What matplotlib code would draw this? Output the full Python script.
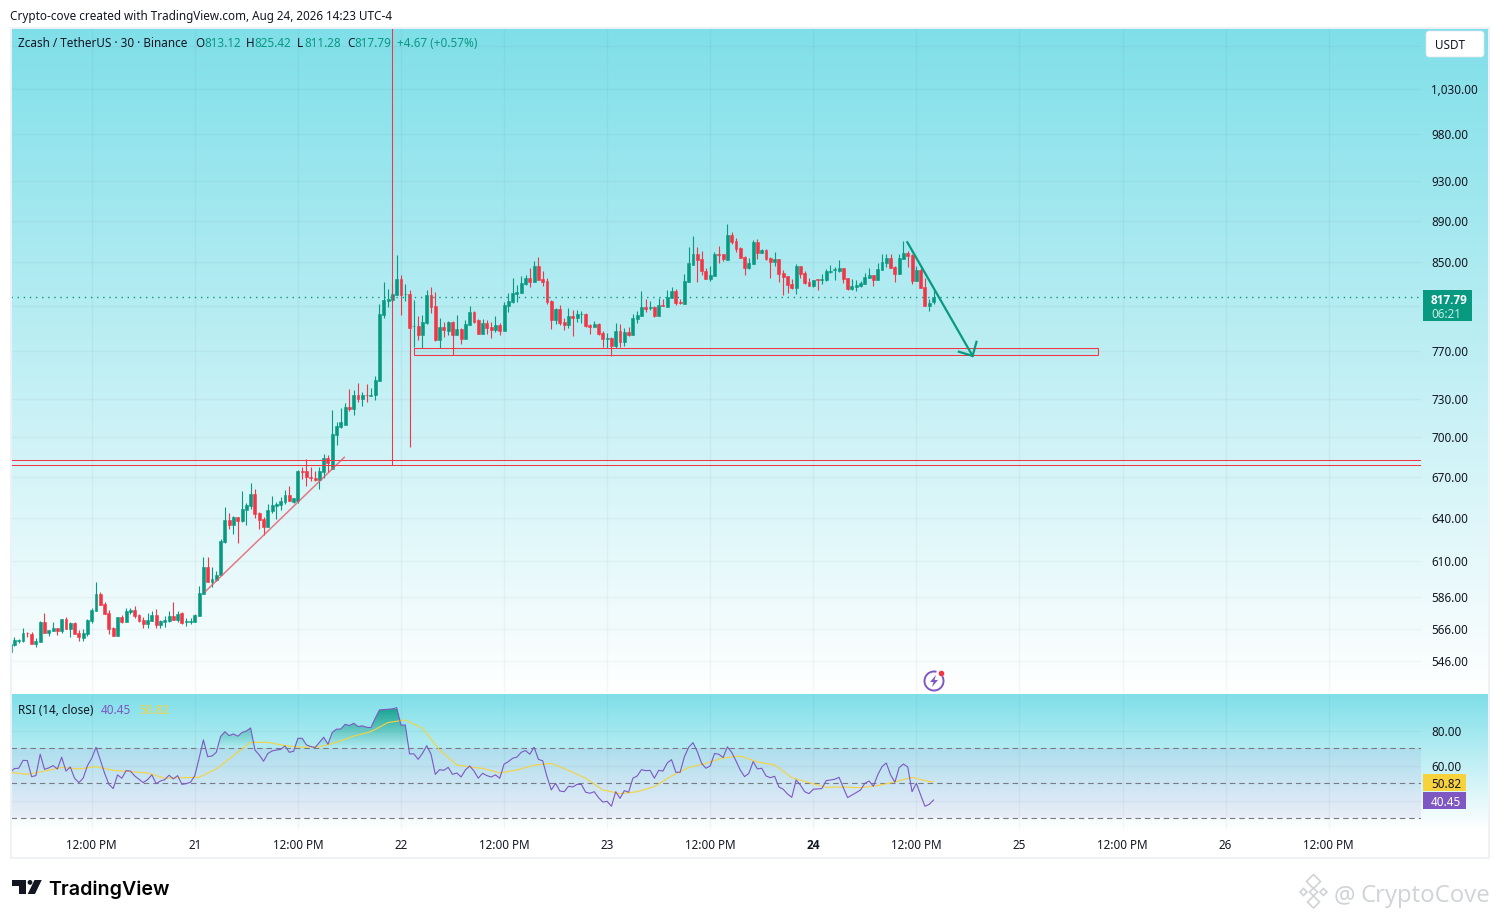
import numpy as np
import matplotlib
matplotlib.use('Agg')
import matplotlib.pyplot as plt
from matplotlib.colors import LinearSegmentedColormap, to_rgb
from matplotlib.patches import Rectangle, FancyBboxPatch, Circle, Arc, Polygon, PathPatch
from matplotlib.ticker import NullLocator, NullFormatter

plt.rcParams['font.family'] = ['Noto Sans', 'DejaVu Sans']

# 30 minute candles, bar 0 is the 22nd at midnight
first_bar = -91
opens = [551.3,555.8,558.4,558.4,563.4,562.6,556.5,557.7,570.1,563.2,564.6,566.3,564.6,572,565.9,569.5,563.2,560,562.8,570.7,
 577.2,588.1,581.6,575.6,566.3,561.5,573.3,570.3,576.2,577.7,574.5,571.4,568.6,570.7,574.5,568.2,570.1,570.7,573.9,571.2,
 575.6,570.1,570.3,570.1,574.1,588.1,605.9,595.9,597.2,600.6,622.9,638.3,634.8,640.4,637.6,645.4,648.2,657,643.2,639,
 633.4,644.7,648.2,648.9,651.1,656.2,651.1,651.8,673.9,673.9,669.4,668.6,667.2,673.1,683.7,675.4,701.3,707.5,709.8,724.1,
 722.5,733.7,730.5,733.7,732.9,733.2,745.3,801.7,814.2,815.1,819.7,834.3,820,820.6,791.4,792,784.2,794.6,819.7,809.7,
 779.8,791.1,787.6,795.5,784.2,789.4,780.7,792.9,804.3,797.3,785,794.6,791.1,788.5,792.9,787.6,809.7,813.3,820.6,821.5,
 829.7,835.2,831.6,846.4,834.3,832.5,814.2,797.3,807,795.5,792.9,800.8,799,802,802.6,792.9,791.1,793.8,785.9,780.7,
 781.6,774.6,787.6,778,786.8,784.2,798.2,800.8,808.8,807.9,808.8,800.8,810.3,808.8,816.9,823.3,813.3,811.5,831.6,847.3,
 857.7,853,841.7,834.3,837,857.7,857.7,852,875.9,870.1,863.4,854.9,844.5,848.2,869.2,858.6,861.5,853.9,850.1,853,
 839.8,837,829.7,826.1,846.4,839.8,831.6,827.9,834.3,833.4,833.4,840.8,842.6,841.4,844.5,835.2,825.1,827,827.9,829.7,
 835.2,838,833.4,842.6,849.2,853.9,845.4,839,853,858.6,856.8,832.5,842.6,827,809.7,813.12]
highs = [557.9,560.5,559.5,566.3,564,564,560,570.9,575.8,565,570.3,566.3,572,573.3,570.3,570.3,564.9,565.7,572,579,
 595.7,589.6,582.7,577.7,567,573.3,574.5,578.9,579,580.2,575.2,573,575.8,577,578.3,571.4,573.7,577,582.9,577,
 576.4,572.6,572.6,575.2,593.3,612.7,612.7,605.9,603.3,625,647.5,643.2,641.4,640.4,659.1,650.4,665,660.6,644,640.4,
 649.7,655.5,651.1,654.7,659.9,662.8,654,674.7,676.9,682.9,676.9,673.9,676.9,686.7,685.9,721.7,711.4,723.3,727.3,738.6,
 737.8,743.6,736.2,742.8,739.5,749.4,811.5,831.6,825.1,830.6,856.8,838,829.7,824.2,815.1,800.8,801.7,824.2,826.9,822.4,
 799,795.5,796.4,796.4,801.7,790.3,797.3,809.7,805.2,798.2,798.2,797.3,795.5,800.8,794.6,813.3,821.5,835.2,828.8,837,
 838,844.5,851.1,854.9,841.7,835.2,815.1,807.9,810.6,799,807.9,806.1,806.1,805.2,803.4,793.8,796.4,794.6,787.6,785.9,
 782.4,794.6,793.8,790.3,791.1,802.6,805.2,823.3,816,814.2,809.7,816.9,816,824.2,827,825.1,816,839,864.4,874.9,
 864.4,860.5,844.5,846.4,859.6,865.3,857.7,886.6,878.8,873,864.4,855.8,853.9,871.1,872,862.5,862.5,854.9,859.6,853,
 842.6,837,834.3,848.2,846.4,841.7,835.2,833.4,834.3,839,843.5,847.3,845.4,852,844.5,835.2,834.3,833.4,832.5,839.8,
 844.5,838,849.2,857.7,857.7,857.7,846.4,857.7,870.1,860.5,857.7,846.4,845.4,835.2,816,825.42]
lows = [551.3,555.2,556.7,557.9,560.9,556.5,554.6,557.7,563.4,561.5,564.6,562.1,563.2,565.9,560.9,562.3,558.4,558.4,561.5,569.5,
 577.2,581,575.4,562.6,561.5,561.5,569.5,570.3,575.2,572.8,570.3,566.3,566.5,570.7,566.3,566.3,566.8,570.1,571.4,570.1,
 568.9,567.6,568.9,570.1,574.1,588.1,595.9,592.6,596.6,600.6,622.2,632,628.5,622.2,636.9,634.8,646.1,639.7,632,627.8,
 633.4,643.2,639,645.4,649.7,651.8,650.4,650.4,667.9,662.8,666.4,666.4,660.6,668.6,673.1,675.4,693.6,706.7,709.8,720.9,
 717.7,728.1,724.4,727.6,732.4,729.7,745.3,799,808.8,813.3,819.7,801.7,814.2,692,773.8,779.8,773,793.8,803.4,778.9,
 773,782.4,784.2,766.9,784.2,776.4,780.7,792.9,794.6,785,785,785,781.6,786.8,784.2,787.6,804.3,812.4,813.3,821.5,
 828.8,826.9,831.6,833.4,827.9,811.5,789.4,793.8,792.9,788.5,790.3,783.3,795.5,794.6,791.1,785,791.1,784.2,773.8,773,
 765.5,773,773.8,774.6,783.3,784.2,794.6,800.8,804.3,806.1,799.9,800.8,809.7,808.8,816.9,810.6,811.5,811.5,831.6,847.3,
 831.6,838,834.3,832.5,837,849.2,851.1,852,867.3,859.6,853.9,838,843.5,848.2,853,858.6,852,835.2,846.4,831.6,
 819.7,821.5,825.1,820.6,835.2,829.7,827.9,827,824.2,829.7,832.5,839.8,833.4,840.8,830.6,824.2,824.2,823.3,827,829.7,
 835.2,827.9,833.4,842.6,845.4,844.5,831.6,839,853,845.4,829.7,832.5,826.1,809.7,805.2,811.28]
closes = [556.4,558.8,558.8,563.2,563,556.5,558.1,570.3,563.4,565,566.3,564.4,572,565.9,569.5,562.6,560.7,563.2,571.4,577.7,
 588.1,581,575.4,565.9,561.5,573.3,570.1,577,577.5,573.9,570.7,568.9,571.2,574.5,568.4,571,571.2,573.9,571.4,574.9,
 569.7,570.5,571,574.5,588.7,605.9,595.9,597.9,600.6,623.6,638.3,634.8,640.4,637.6,646.1,648.9,657,642.6,638.3,633.4,
 645.4,648.9,649.7,651.8,656.2,651.8,654,673.9,673.4,669.4,668.6,667.2,673.9,683.7,679.9,702,708.3,711.4,724.1,722.5,
 733.7,730.5,733.7,733.2,733.7,746.1,802.6,815.1,816,820.6,834.3,819.7,820.6,790.3,792,784.2,795.5,819.7,808.8,779.8,
 791.1,788.5,795.5,784.2,789.4,780.7,793.8,804.3,795.5,785,794.6,790.3,788.5,792.9,787.6,810.6,814.2,821.5,822.4,830.6,
 835.2,831.6,846.4,833.4,831.6,813.3,797.3,807,794.6,792.9,800.8,799,802.6,802.6,792,791.1,793.8,785,780.7,781.2,
 774.6,787.6,778,786.8,784.2,799,801.7,808.8,807,808.8,800.8,810.6,809.7,817.8,823.3,812.4,812.1,832.5,849.2,857.7,
 852,841.7,834.3,838,857.7,856.8,853,875.9,869.2,862.5,853.9,844.5,849.2,869.2,858.6,861.5,853,850.1,853,839,
 836.1,828.8,826.1,846.4,839,830.6,827.9,833.4,833.4,834.3,841.7,841.7,843.5,844.5,834.3,825.1,827.9,828.8,830.6,836.1,
 838,833.4,843.5,850.1,853.9,844.5,839,853.9,858.6,855.8,832.5,842.6,826.1,809.7,812.4,817.79]

rsi_values = [56.3,58.4,58.6,63.1,63.0,53.8,54.4,66.6,58.0,58.8,60.1,58.2,64.9,57.0,59.3,52.9,50.4,52.9,60.1,64.3,
 70.6,63.3,55.7,49.4,47.0,54.8,52.9,57.2,57.0,54.2,52.3,50.4,52.1,54.8,49.8,51.3,52.1,54.6,52.5,54.4,
 49.4,49.8,50.6,54.4,64.3,74.8,65.2,65.6,67.7,76.7,79.5,77.2,78.2,76.9,79.0,79.9,81.6,69.0,66.2,62.6,
 67.0,68.5,69.0,69.4,71.3,67.7,68.3,75.7,75.7,71.9,71.0,70.4,73.4,76.3,72.3,79.1,80.9,81.0,83.7,83.0,
 84.3,82.4,82.8,82.0,81.8,87.1,91.9,92.1,92.3,92.5,93.2,83.3,83.3,66.8,66.8,63.7,67.1,71.5,66.6,55.1,
 57.8,57.4,59.1,55.1,55.9,53.6,57.6,59.9,57.0,52.9,55.7,54.4,
 53.6,54.8,52.9,60.9,62.4,64.3,65.0,67.7,68.7,66.6,70.6,63.7,62.8,53.8,46.2,50.0,45.6,45.2,48.3,47.9,
 49.4,49.4,44.9,44.3,45.2,41.8,39.3,39.7,36.9,45.2,41.4,45.8,44.9,52.9,54.2,57.8,57.2,57.4,52.9,57.4,
 57.0,61.6,63.5,56.3,56.3,65.2,70.6,73.2,68.1,61.4,58.6,59.9,67.0,66.6,64.7,70.8,67.7,62.8,57.6,53.8,
 55.7,62.4,58.2,58.6,54.2,53.2,54.0,47.9,46.6,43.9,42.0,51.9,49.0,45.2,44.1,46.6,46.8,47.0,51.5,51.9,
 52.3,53.4,47.5,41.8,43.3,44.7,46.2,50.0,51.3,48.3,54.8,59.5,61.6,54.8,50.6,59.0,61.0,59.3,45.2,50.0,
 43.3,36.9,38.0,40.45]
rsi_ma_bars = list(range(-91, 18, 4)) + list(range(19, 124, 4)) + [124]
rsi_ma_values = [56.3,55.1,57.0,59.0,58.2,59.5,57.4,56.7,55.9,52.9,53.2,53.4,58.2,65.8,73.4,73.4,71.5,70.6,70.8,73.4,
 77.0,79.5,84.7,86.2,81.4,69.0,60.5,59.0,
 58.6,55.9,57.6,60.3,61.4,57.4,52.9,46.2,44.1,45.2,48.1,54.2,59.0,61.4,64.5,65.6,62.2,60.5,53.2,50.4,
 47.7,47.9,47.5,48.7,50.8,53.4,51.0,50.82]

price_ticks = [1080,1030,980,930,890,850,810,770,730,700,670,640,610,586,566,546]
price_labels = ['','1,030.00','980.00','930.00','890.00','850.00','','770.00','730.00','700.00','670.00','640.00','610.00','586.00','566.00','546.00']
time_ticks = [-72,-48,-24,0,24,48,72,96,120,144,168,192,216]
time_labels = ['12:00 PM','21','12:00 PM','22','12:00 PM','23','12:00 PM','24','12:00 PM','25','12:00 PM','26','12:00 PM']

last_price = 817.79
up = '#089981'
down = '#f23645'
purple = '#7e57c2'
yellow = '#f7d23d'
txt = '#131722'
W, H = 1498, 918
PX = 0.72  # px to pt at dpi 100
FS = 11.7

def rect(l, t, r, b):
    return [l/W, 1-b/H, (r-l)/W, (b-t)/H]

fig = plt.figure(figsize=(W/100, H/100), dpi=100, facecolor='white')

# background gradient, one per pane
bg = fig.add_axes([0, 0, 1, 1], zorder=0)
bg.set_xlim(0, W); bg.set_ylim(H, 0); bg.axis('off')
grad = LinearSegmentedColormap.from_list('bg', ['#7fdfe9', '#ffffff'])
ramp = np.linspace(0, 1, 256).reshape(-1, 1)
bg.imshow(ramp, cmap=grad, extent=(11, 1488, 692, 28), aspect='auto')
bg.imshow(ramp, cmap=grad, extent=(11, 1488, 829, 694), aspect='auto')
bg.set_xlim(0, W); bg.set_ylim(H, 0)

ax = fig.add_axes(rect(11, 28, 1421, 692), zorder=1)
rs = fig.add_axes(rect(11, 694, 1421, 829), zorder=1)
xlim = (-90.8, 237.5)
for a in (ax, rs):
    a.patch.set_alpha(0)
    a.set_xlim(*xlim)
    for s in a.spines.values():
        s.set_visible(False)
    a.set_xticks(time_ticks)
    a.grid(True, color='#2a2e39', alpha=0.045, lw=1)
    a.set_axisbelow(True)

# price pane
bars = first_bar + np.arange(len(opens))
o, h, l, c = map(np.array, (opens, highs, lows, closes))
colors = [up if cc >= oo else down for oo, cc in zip(o, c)]
ax.set_yscale('log')
ax.vlines(bars, l, h, colors=colors, lw=0.8, zorder=3)
ax.bar(bars, np.abs(c-o), bottom=np.minimum(o, c), width=0.68, color=colors, edgecolor=colors, lw=0.4, zorder=4)
ax.set_ylim(527.5, 1102.1)
ax.set_xlim(*xlim)
ax.yaxis.set_minor_locator(NullLocator())
ax.yaxis.set_minor_formatter(NullFormatter())
ax.set_yticks(price_ticks)
ax.set_yticklabels(price_labels)
ax.yaxis.tick_right()
ax.tick_params(axis='y', length=0, pad=7.2, labelsize=FS*PX, labelcolor=txt)
ax.tick_params(axis='x', length=0, labelbottom=False)
plt.setp(ax.get_yticklabels(), va='center_baseline')

# drawings on the chart
ax.axhline(last_price, color=up, lw=1, ls=(0, (1, 3.4)), zorder=5)
ax.hlines([682.7, 678.4], xlim[0], xlim[1], colors=down, lw=0.75, zorder=5)
ax.plot([-2.0, -2.0], [678.4, 1102.1], color=down, lw=0.75, zorder=5)
ax.add_patch(Rectangle((3.0, 766.5), 159.3, 5.9, fc='#787b86', alpha=0.05, zorder=2))
ax.add_patch(Rectangle((3.0, 766.5), 159.3, 5.9, fc='none', ec=down, lw=0.75, zorder=5))
ax.plot([-45.6, -13.2], [589.6, 684.4], color='#ea5866', lw=1.1, alpha=0.8, zorder=5)
ax.plot([117.9, 133.1], [868.9, 765.9], color=up, lw=1.6, zorder=6)
ax.plot([134.0, 133.1, 129.9], [778, 765.9, 769.5], color=up, lw=1.6, zorder=6)

# rsi pane
rsi = np.array(rsi_values)
rs.set_ylim(23.9, 101)
rs.set_xlim(*xlim)
rs.set_yticks([40, 60, 80])
rs.set_yticklabels(['', '60.00', '80.00'])
rs.yaxis.tick_right()
rs.tick_params(axis='y', length=0, pad=7.2, labelsize=FS*PX, labelcolor=txt)
plt.setp(rs.get_yticklabels(), va='center_baseline')
rs.set_xticklabels(time_labels)
rs.tick_params(axis='x', length=0, pad=7.5, labelsize=FS*PX, labelcolor=txt)
for lab in rs.get_xticklabels():
    if lab.get_text() == '24':
        lab.set_family('Open Sans')
        lab.set_fontweight('bold')
rs.axhspan(30, 70, color=purple, alpha=0.09, lw=0, zorder=1)
for lvl in (70, 50, 30):
    rs.axhline(lvl, color='#787b86', lw=0.8, ls=(0, (5, 3.5)), zorder=2)
fade = LinearSegmentedColormap.from_list('fade', [to_rgb(up)+(0.85,), to_rgb(up)+(0.0,)])
hull = rs.fill_between(bars, 70, rsi, where=rsi >= 70, interpolate=True, fc='none', lw=0)
for p in hull.get_paths():
    im = rs.imshow(ramp, cmap=fade, extent=(xlim[0], xlim[1], 70, 92), aspect='auto', zorder=2.5)
    im.set_clip_path(PathPatch(p, transform=rs.transData))
rs.set_xlim(*xlim); rs.set_ylim(23.9, 101)
rs.plot(rsi_ma_bars, rsi_ma_values, color=yellow, lw=0.8, zorder=3)
rs.plot(bars, rsi, color=purple, lw=0.8, zorder=4)

# everything outside the panes, in pixels
ui = fig.add_axes([0, 0, 1, 1], zorder=5)
ui.set_xlim(0, W); ui.set_ylim(H, 0); ui.axis('off')

def put(x, y, s, color=txt, size=FS, **kw):
    kw.setdefault('va', 'center_baseline')
    ui.text(x, y, s, color=color, fontsize=size*PX, **kw)

ui.add_patch(Rectangle((10.5, 27.5), 1478, 830, fc='none', ec='#eef1f6', lw=1.4))
put(10, 15, 'Crypto-cove created with TradingView.com, Aug 24, 2026 14:23 UTC-4')
put(18, 42, 'Zcash / TetherUS · 30 · Binance')
for x, s, col in [(195, 'O', txt), (204, '813.12', up), (246, 'H', txt), (254, '825.42', up), (297, 'L', txt),
                  (304, '811.28', up), (347, 'C', txt), (354, '817.79', up), (397, '+4.67 (+0.57%)', up)]:
    put(x, 42, s, col)
put(18, 709, 'RSI (14, close)')
put(101, 709, '40.45', purple)
put(139, 709, '50.82', yellow)

ui.add_patch(FancyBboxPatch((1428, 33), 54, 22, boxstyle='round,pad=2,rounding_size=3', fc='white', ec='#e0e3eb', lw=0.5))
put(1435, 44, 'USDT')
ui.add_patch(Rectangle((1423, 290), 49, 31, fc=up, lw=0))
put(1431, 299, '817.79', 'white', family='Open Sans', fontweight='bold')
put(1431, 312.5, '06:21', '#c8ebe4')
ui.add_patch(Rectangle((1423, 774), 43, 17, fc=yellow, lw=0))
put(1431, 782.5, '50.82')
ui.add_patch(Rectangle((1423, 792), 43, 17, fc=purple, lw=0))
put(1431, 800.5, '40.45', 'white')

# lightning badge
ui.add_patch(Arc((934, 681), 19, 19, theta1=-30, theta2=285, color=purple, lw=1.4))
ui.add_patch(Polygon([(936, 675), (930, 682), (933.5, 682), (932, 687), (938, 680), (934.5, 680)], fc=purple, lw=0))
ui.add_patch(Circle((941.5, 673.5), 2.8, fc=down, lw=0))

# tradingview logo
ui.add_patch(Polygon([(12.3, 880), (25.7, 880), (25.7, 894), (19, 894), (19, 885.5), (12.3, 885.5)], fc=txt, lw=0))
ui.add_patch(Circle((30, 882.4), 2.4, fc=txt, lw=0))
ui.add_patch(Polygon([(34.5, 880), (41.7, 880), (35, 894), (27.7, 894)], fc=txt, lw=0))
put(48, 888, 'TradingView', '#000000', 19.6, family='Inter', fontweight='semibold')

# watermark
wm = '#d0d4d8'
for cx, cy, r in [(1313.5, 881.5, 7), (1303.5, 892, 3.5), (1323.5, 892, 3.5), (1313.5, 892, 4), (1313.5, 902, 6)]:
    ui.add_patch(Polygon([(cx, cy-r), (cx+r, cy), (cx, cy+r), (cx-r, cy)], fc='none', ec=wm, lw=1.2))
put(1334, 893, '@', wm, 24)
put(1361, 893, 'CryptoCove', wm, 24, family='Open Sans')

fig.savefig('out.png', dpi=100)
